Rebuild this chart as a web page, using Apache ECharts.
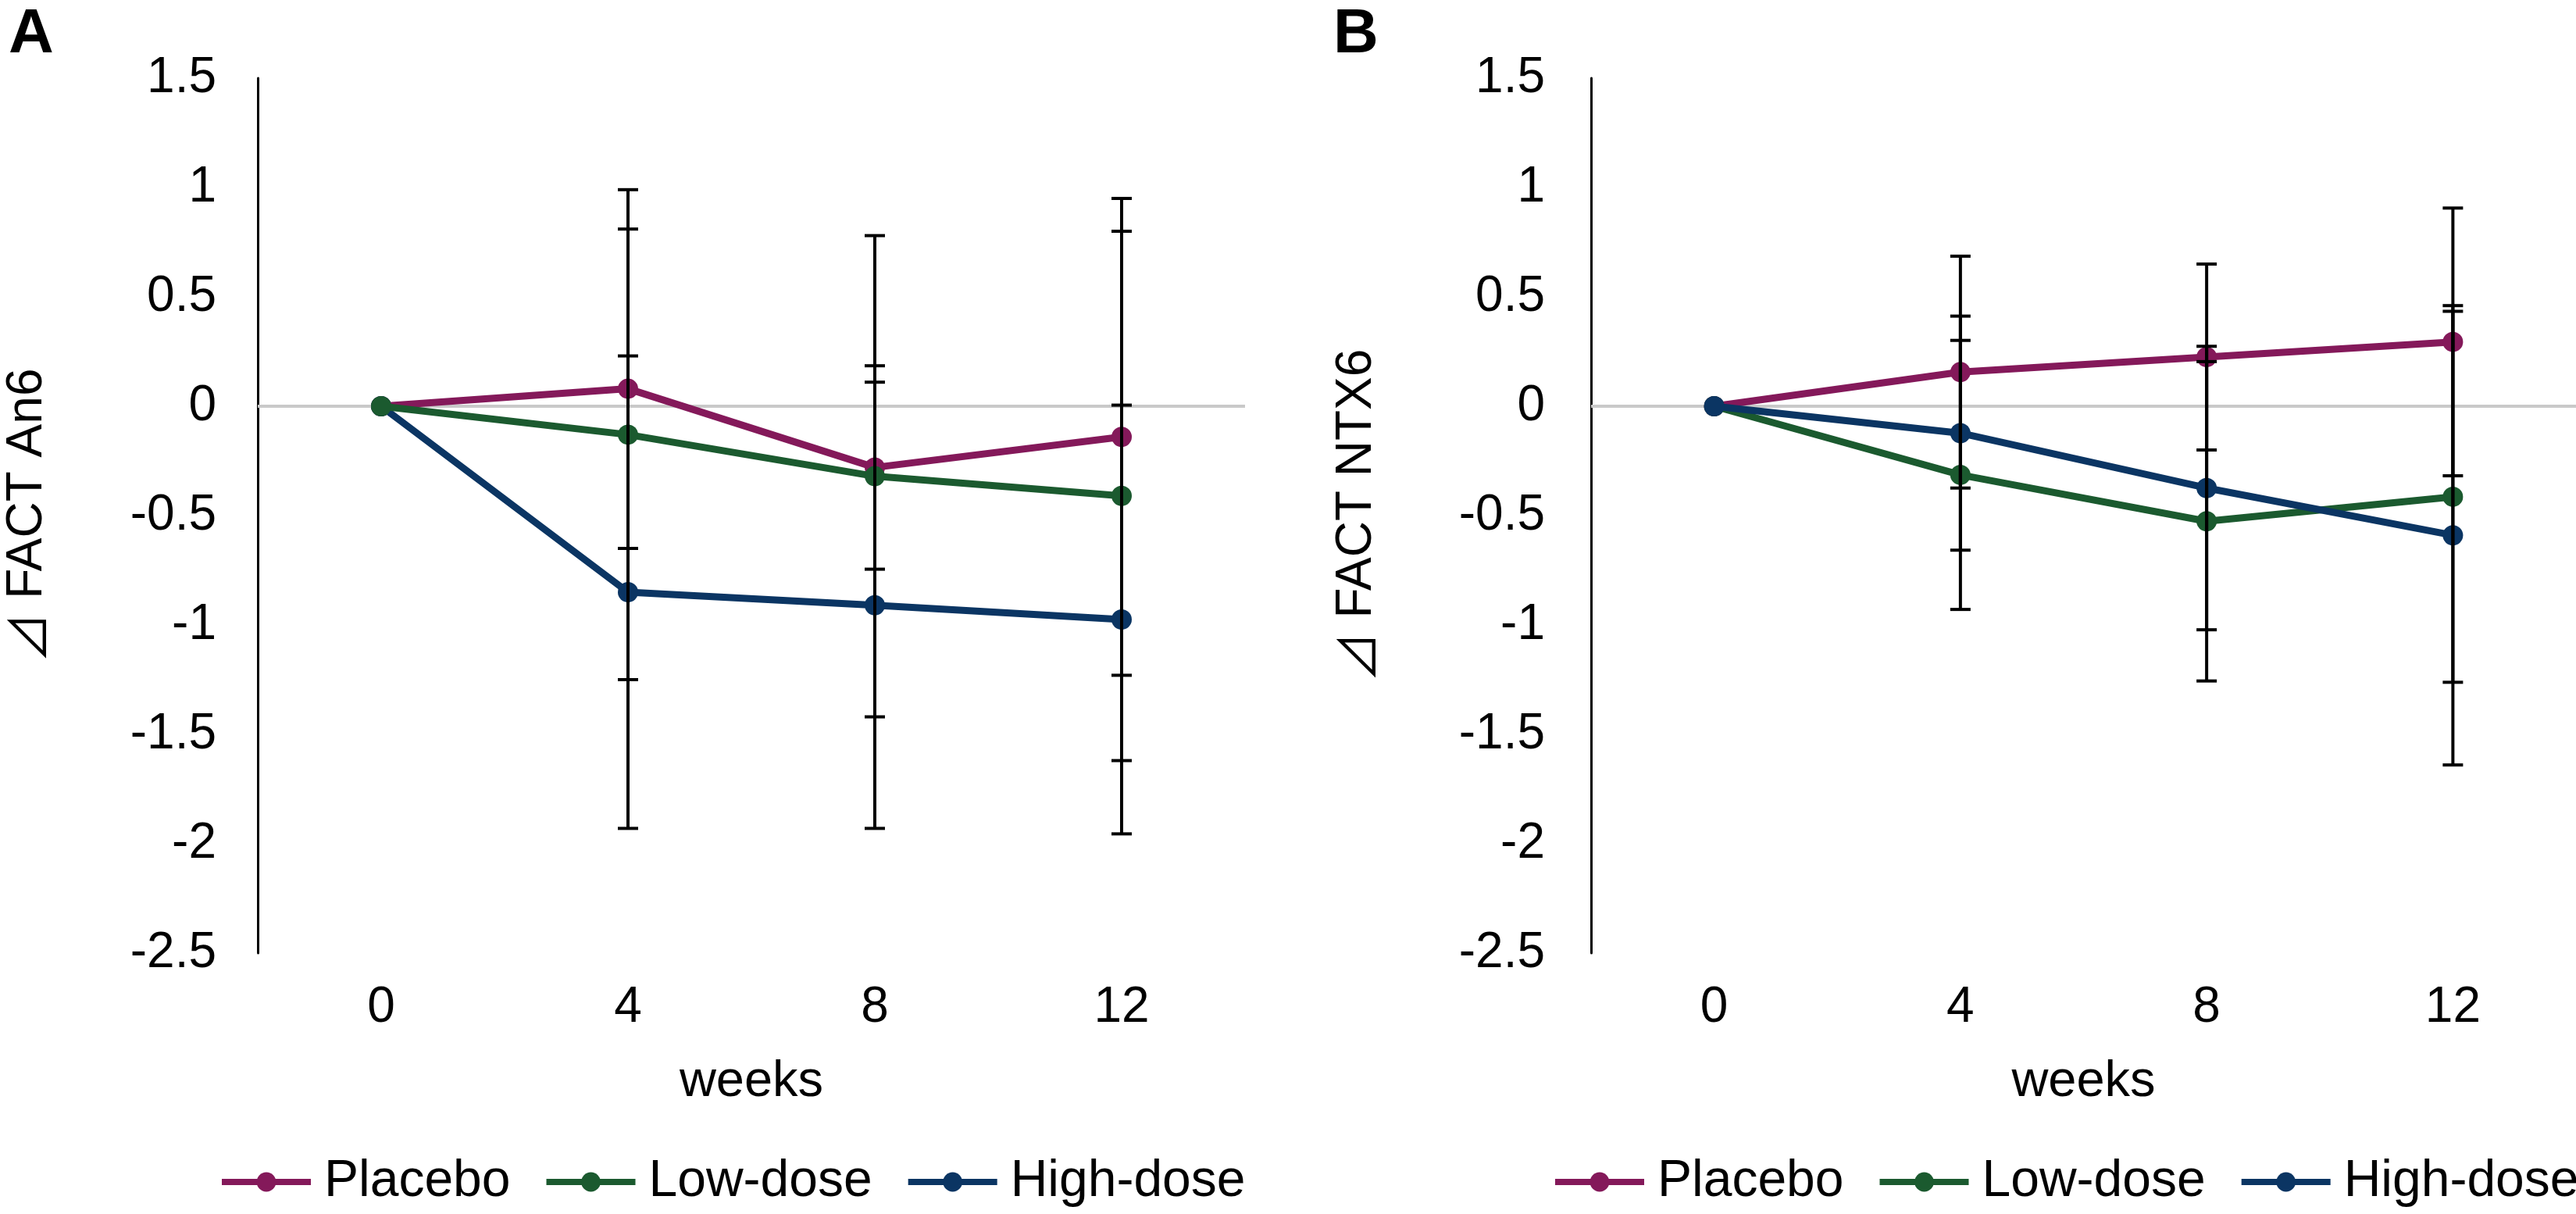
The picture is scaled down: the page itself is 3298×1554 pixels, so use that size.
<!DOCTYPE html>
<html>
<head>
<meta charset="utf-8">
<script src="https://cdn.jsdelivr.net/npm/echarts@6/dist/echarts.min.js"></script>
<style>
html,body{margin:0;padding:0;background:#fff;}
#chart{width:3298px;height:1554px;}
</style>
</head>
<body>
<div id="chart"></div>
<script>
// ---- data ----
const weeks = ['0', '4', '8', '12'];
const yTicksMin = -2.5, yTicksMax = 1.5, yTickStep = 0.5;
const seriesNames = ['Placebo', 'Low-dose', 'High-dose'];

// Panel A: ⊿ FACT An6
const placeboA = [0, 0.08, -0.28, -0.14];
const lowA     = [0, -0.13, -0.32, -0.41];
const highA    = [0, -0.85, -0.91, -0.975];
const errPlaceboA = [null, 0.73, 0.465, 1.09];
const errLowA     = [null, 1.12, 1.10, 1.21];
const errHighA    = [null, 1.08, 1.02, 0.98];

// Panel B: ⊿ FACT NTX6
const placeboB = [0, 0.156, 0.225, 0.294];
const lowB     = [0, -0.314, -0.526, -0.414];
const highB    = [0, -0.123, -0.374, -0.59];
const errPlaceboB = [null, 0.53, 0.425, 0.612];
const errLowB     = [null, 0.615, 0.73, 0.848];
const errHighB    = [null, 0.535, 0.648, 1.05];

// ---- styling ----
const FONT = '"Liberation Sans", Arial, "DejaVu Sans", sans-serif';
const colors = {'Placebo': '#84195a', 'Low-dose': '#1b5a2f', 'High-dose': '#0b3563'};

function errData(means, errs) {
  const out = [];
  means.forEach((m, i) => {
    if (errs[i] != null) out.push([i, m - errs[i], m + errs[i]]);
  });
  return out;
}

function renderErr(params, api) {
  const x = api.value(0);
  const lo = api.coord([x, api.value(1)]);
  const hi = api.coord([x, api.value(2)]);
  const hw = 13;
  const st = {stroke: '#000', lineWidth: 4};
  return {type: 'group', children: [
    {type: 'line', shape: {x1: hi[0], y1: hi[1], x2: lo[0], y2: lo[1]}, style: st},
    {type: 'line', shape: {x1: hi[0] - hw, y1: hi[1], x2: hi[0] + hw, y2: hi[1]}, style: st},
    {type: 'line', shape: {x1: lo[0] - hw, y1: lo[1], x2: lo[0] + hw, y2: lo[1]}, style: st}
  ]};
}

function lineSeries(name, data, gi, z, withZero) {
  const s = {
    name: name, type: 'line', data: data,
    xAxisIndex: gi, yAxisIndex: gi,
    symbol: 'circle', symbolSize: 26, showSymbol: true,
    lineStyle: {color: colors[name], width: 9},
    itemStyle: {color: colors[name]},
    z: z, animation: false
  };
  if (withZero) {
    s.markLine = {
      silent: true, symbol: ['none', 'none'], label: {show: false},
      lineStyle: {color: '#c9c9c9', width: 4, type: 'solid'},
      data: [{yAxis: 0}], z: 1
    };
  }
  return s;
}

function errSeries(means, errs, gi) {
  return {
    type: 'custom', renderItem: renderErr, data: errData(means, errs),
    xAxisIndex: gi, yAxisIndex: gi, z: 10, silent: true, animation: false,
    encode: {x: 0, y: [1, 2]}
  };
}

const grids = [
  {left: 330, width: 1264, top: 100, height: 1120},
  {left: 2037, width: 1264, top: 100, height: 1120}
];

function xAxis(gi) {
  return {
    type: 'category', gridIndex: gi, data: weeks, boundaryGap: true,
    axisLine: {show: false, onZero: false}, axisTick: {show: false},
    splitLine: {show: false},
    axisLabel: {color: '#000', fontSize: 64, fontFamily: FONT, margin: 38},
    name: 'weeks', nameLocation: 'middle', nameGap: 133,
    nameTextStyle: {color: '#000', fontSize: 65, fontFamily: FONT}
  };
}

function yAxis(gi, title, labMargin, nameGap) {
  return {
    type: 'value', gridIndex: gi, min: yTicksMin, max: yTicksMax, interval: yTickStep,
    axisLine: {show: true, lineStyle: {color: '#000', width: 3}},
    axisTick: {show: false}, splitLine: {show: false},
    axisLabel: {color: '#000', fontSize: 64, fontFamily: FONT, margin: labMargin},
    name: '{tri|⊿} ' + title, nameLocation: 'middle', nameRotate: 90, nameGap: nameGap,
    nameTextStyle: {
      color: '#000', fontSize: 64, fontFamily: FONT,
      rich: {tri: {fontSize: 64, color: '#000', fontFamily: '"Noto Sans CJK JP", "DejaVu Sans", sans-serif'}}
    }
  };
}

function legend(left) {
  return {
    left: left, top: 1475, width: 1500, orient: 'horizontal',
    data: seriesNames, itemWidth: 114, itemHeight: 31, itemGap: 42,
    lineStyle: {width: 8},
    textStyle: {color: '#000', fontSize: 66, fontFamily: FONT, padding: [0, 0, 0, 12]}
  };
}

const option = {
  backgroundColor: '#fff',
  animation: false,
  title: [
    {text: 'A', left: 6, top: 0, textStyle: {fontSize: 80, fontWeight: 'bold', color: '#000', fontFamily: FONT}},
    {text: 'B', left: 1702, top: 0, textStyle: {fontSize: 80, fontWeight: 'bold', color: '#000', fontFamily: FONT}}
  ],
  grid: grids,
  xAxis: [xAxis(0), xAxis(1)],
  yAxis: [yAxis(0, 'FACT An6', 53, 263), yAxis(1, 'FACT NTX6', 59, 268)],
  legend: [legend(275), legend(1982)],
  series: [
    lineSeries('Placebo', placeboA, 0, 3, true),
    lineSeries('High-dose', highA, 0, 4, false),
    lineSeries('Low-dose', lowA, 0, 5, false),
    errSeries(placeboA, errPlaceboA, 0),
    errSeries(lowA, errLowA, 0),
    errSeries(highA, errHighA, 0),
    lineSeries('Placebo', placeboB, 1, 3, true),
    lineSeries('Low-dose', lowB, 1, 4, false),
    lineSeries('High-dose', highB, 1, 5, false),
    errSeries(placeboB, errPlaceboB, 1),
    errSeries(lowB, errLowB, 1),
    errSeries(highB, errHighB, 1)
  ]
};

const chart = echarts.init(document.getElementById('chart'), null, {renderer: 'canvas'});
chart.setOption(option);
</script>
</body>
</html>
